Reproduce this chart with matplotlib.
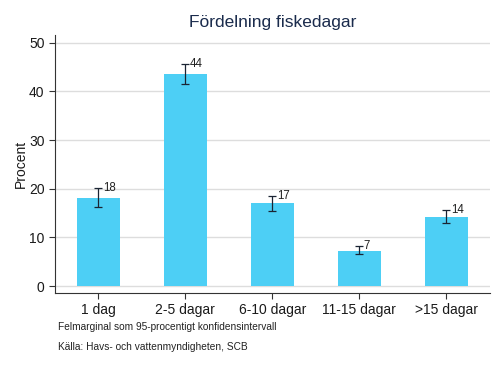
import matplotlib
matplotlib.use('Agg')
import matplotlib.pyplot as plt
import numpy as np

plt.rcParams['font.family'] = ['Liberation Sans', 'DejaVu Sans']

# Percent
categories = ['1 dag', '2-5 dagar', '6-10 dagar', '11-15 dagar', '>15 dagar']
values = [18.0, 43.6, 17.0, 7.2, 14.1]
ci_low = [16.2, 41.6, 15.4, 6.6, 12.9]
ci_high = [20.1, 45.7, 18.6, 8.2, 15.6]
labels = ['18', '44', '17', '7', '14']

fig = plt.figure(figsize=(5.04, 3.67), dpi=100)
ax = fig.add_axes([0.109, 0.2016, 0.863, 0.703])

x = np.arange(len(categories))
vals = np.array(values)
err = [vals - np.array(ci_low), np.array(ci_high) - vals]

ax.bar(x, vals, 0.5, color='#4dcff5', zorder=2)
ax.errorbar(x, vals, yerr=err, fmt='none', ecolor='#1a2433', elinewidth=0.9,
            capsize=3, capthick=0.9, zorder=3)
for xi, hi, lab in zip(x, ci_high, labels):
    ax.text(xi + 0.05, hi, lab, fontsize=8.3, color='#222222', va='center', ha='left')

ax.set_xlim(-0.5, 4.5)
ax.set_ylim(-1.44, 51.6)
ax.set_yticks(range(0, 51, 10))
ax.set_xticks(x)
ax.set_xticklabels(categories)
ax.yaxis.grid(True, color='#dddddd', linewidth=1, zorder=0)
ax.set_axisbelow(True)

for s in ['top', 'right']:
    ax.spines[s].set_visible(False)
for s in ['left', 'bottom']:
    ax.spines[s].set_color('#333333')
    ax.spines[s].set_linewidth(0.8)
ax.tick_params(axis='both', colors='#333333', labelcolor='#1a1a1a', labelsize=10,
               length=4, width=0.8)
ax.tick_params(axis='x', pad=3.5)

ax.set_ylabel('Procent', fontsize=10, color='#1a1a1a', labelpad=1)
ax.set_title('Fördelning fiskedagar', fontsize=12.5, color='#1a2b4c', pad=6)

fig.text(0.115, 0.100, 'Felmarginal som 95-procentigt konfidensintervall',
         fontsize=7.3, color='#222222')
fig.text(0.115, 0.045, 'Källa: Havs- och vattenmyndigheten, SCB',
         fontsize=7.3, color='#222222')

fig.savefig('out.png', dpi=100)
